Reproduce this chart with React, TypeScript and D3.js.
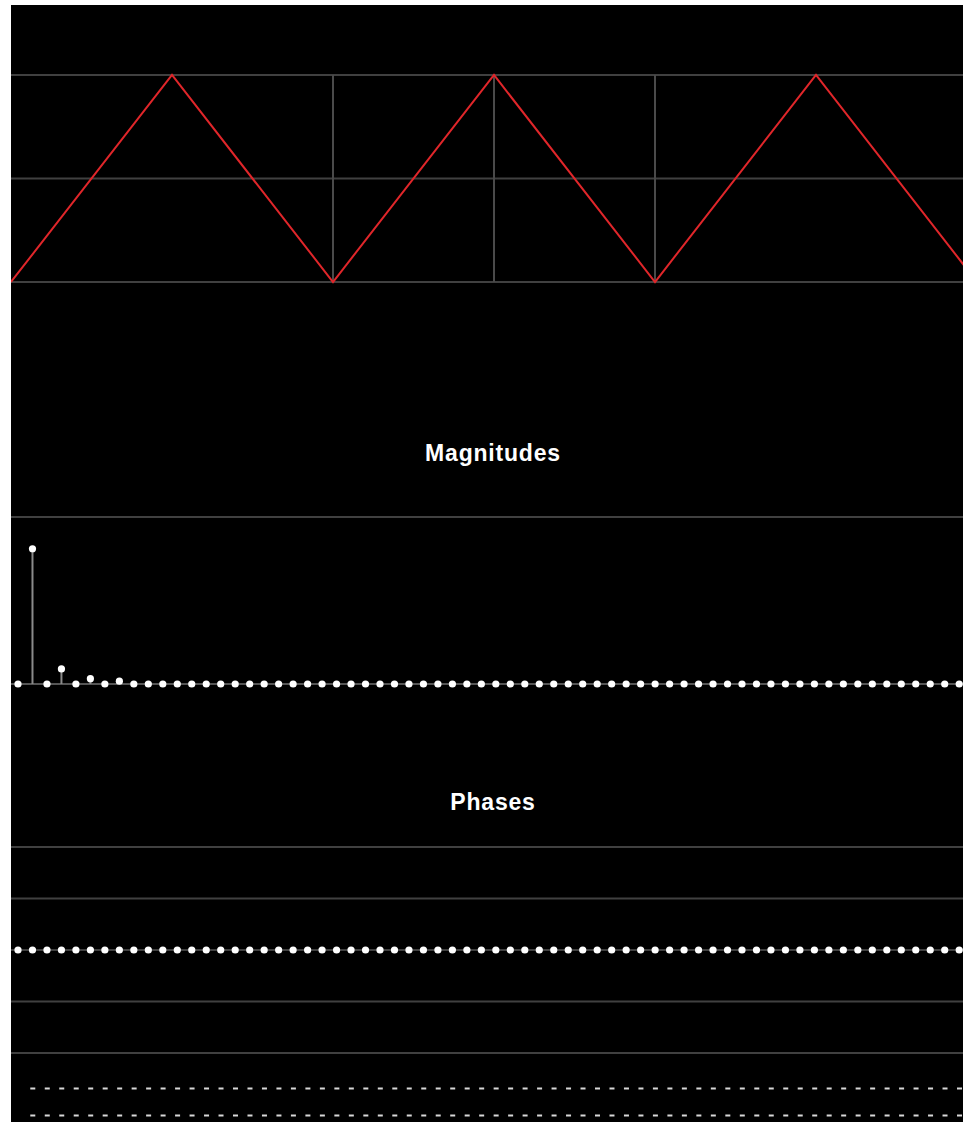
import React from "react";
import * as d3 from "d3";

// Triangle wave (x in half-periods, y normalized)
const waveX = [0, 1, 2, 3, 4, 5, 6];
const waveY = [-1, 1, -1, 1, -1, 1, -1];
const waveGridX = [2, 3, 4];
const waveGridY = [-1, 0, 1];

// Spectrum magnitudes per harmonic index
const magnitudes = [
  0, 0.81, 0, 0.09, 0, 0.032, 0, 0.017, 0, 0, 0, 0, 0, 0, 0, 0,
  0, 0, 0, 0, 0, 0, 0, 0, 0, 0, 0, 0, 0, 0, 0, 0, 0, 0, 0, 0, 0, 0, 0, 0,
  0, 0, 0, 0, 0, 0, 0, 0, 0, 0, 0, 0, 0, 0, 0, 0, 0, 0, 0, 0, 0, 0, 0, 0, 0, 0, 0,
];
// Phases per harmonic (all zero)
const phases = magnitudes.map(() => 0);
const phaseGrid = [-Math.PI, -Math.PI / 2, 0, Math.PI / 2, Math.PI];
// Two bottom rows of markers (indices)
const dashRows = [0, 1];
const dashIdx = d3.range(1, 67);

const W = 952;
const H = 1117;

export default function App() {
  const xw = d3.scaleLinear().domain([0, 6]).range([0, 966]);
  const yw = d3.scaleLinear().domain([-1, 1]).range([277, 70]);
  const line = d3
    .line<number>()
    .x((_, i) => xw(waveX[i]))
    .y((d) => yw(d));

  const n = magnitudes.length;
  const xs = d3.scaleLinear().domain([0, n - 1]).range([7, 7 + (n - 1) * 14.48]);
  const ym = d3.scaleLinear().domain([0, 1]).range([679, 512]);
  const yp = d3.scaleLinear().domain([-Math.PI, Math.PI]).range([1048, 842]);
  const yDash = d3.scaleLinear().domain([0, 1]).range([1083.5, 1110.5]);

  const grid = "#404040";
  const font = "'Liberation Sans', Arial, Helvetica, sans-serif";

  return (
    <div style={{ position: "absolute", left: 11, top: 5 }}>
      <svg width={W} height={H} style={{ display: "block" }}>
        <rect x={0} y={0} width={W} height={H} fill="#000" />
        {/* wave chart */}
        {waveGridY.map((v) => (
          <line key={"gy" + v} x1={0} x2={W} y1={yw(v)} y2={yw(v)} stroke={grid} strokeWidth={2} />
        ))}
        {waveGridX.map((v) => (
          <line key={"gx" + v} x1={xw(v)} x2={xw(v)} y1={yw(1)} y2={yw(-1)} stroke="#4a4a4a" strokeWidth={2} />
        ))}
        <path d={line(waveY) || ""} fill="none" stroke="#e0262a" strokeWidth={2} />

        {/* Magnitudes */}
        <text x={482} y={456} textAnchor="middle" fill="#fff" fontFamily={font} fontWeight={700} fontSize={23} letterSpacing={0.8}>
          Magnitudes
        </text>
        <line x1={0} x2={W} y1={ym(1)} y2={ym(1)} stroke={grid} strokeWidth={2} />
        <line x1={0} x2={W} y1={ym(0)} y2={ym(0)} stroke="#555" strokeWidth={2} />
        {magnitudes.map((m, i) => (
          <g key={"m" + i}>
            {m > 0 && <line x1={xs(i)} x2={xs(i)} y1={ym(0)} y2={ym(m)} stroke="#8a8a8a" strokeWidth={2} />}
            <circle cx={xs(i)} cy={ym(m)} r={3.6} fill="#fff" />
          </g>
        ))}

        {/* Phases */}
        <text x={482} y={805} textAnchor="middle" fill="#fff" fontFamily={font} fontWeight={700} fontSize={23} letterSpacing={0.8}>
          Phases
        </text>
        {phaseGrid.map((v, i) => (
          <line key={"pg" + i} x1={0} x2={W} y1={yp(v)} y2={yp(v)} stroke={grid} strokeWidth={2} />
        ))}
        {phases.map((p, i) => (
          <circle key={"p" + i} cx={xs(i)} cy={yp(p)} r={3.6} fill="#fff" />
        ))}

        {/* bottom markers */}
        {dashRows.map((r) =>
          dashIdx.map((k) => (
            <rect key={"d" + r + "-" + k} x={xs(k) - 2.2} y={yDash(r) - 1} width={5} height={2} fill="#d8d8d8" />
          ))
        )}
      </svg>
    </div>
  );
}
